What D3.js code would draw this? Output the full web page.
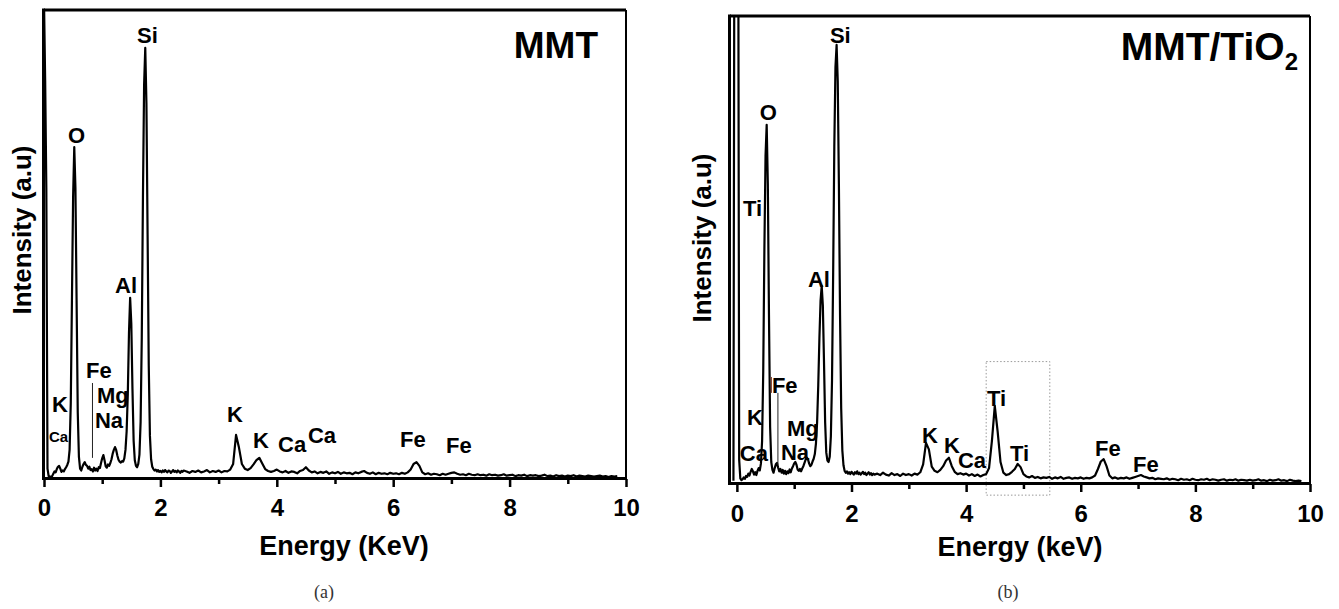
<!DOCTYPE html>
<html>
<head>
<meta charset="utf-8">
<script src="https://cdn.jsdelivr.net/npm/d3@7"></script>
<style>
  body { margin: 0; background: #fff; }
  svg { display: block; }
  text { font-family: "Liberation Sans", Arial, Helvetica, sans-serif; }
  text.caption { font-family: "Liberation Serif", "Times New Roman", serif; }
</style>
</head>
<body>
<svg id="chart" width="1339" height="609"></svg>
<script>
// ---- EDS spectra (intensity in a.u., uniform channel grids) ----
// Fine grid for the light-element region, coarser grid above 2.4 keV.
const lowStep = 0.02;
const highStart = 2.45;
const highStep = 0.05;

// MMT spectrum, 0.00 – 2.40 keV
const mmtLowStart = 0.00;
const mmtLow = [
  102, 85, 62, 2.0, 0.4, 0.3, 0.2, 0.4, 0.9, 1.4,
  1.2, 1.9, 2.4, 2.6, 2.0, 1.3, 1.6, 1.4, 1.9, 2.3,
  2.8, 3.5, 6, 16, 38, 60, 70.7, 62, 38, 14,
  4.5, 2.0, 1.6, 2.4, 3.0, 3.4, 2.8, 2.6, 2.0, 2.4,
  1.7, 1.9, 1.4, 2.2, 1.6, 2.0, 1.5, 2.3, 2.1, 3.2,
  4.2, 4.9, 3.8, 2.5, 2.2, 2.9, 2.6, 3.2, 4.0, 5.2,
  6.0, 6.6, 6.0, 4.8, 3.9, 3.5, 3.3, 3.6, 3.5, 4.2,
  6, 10, 18, 31, 38.5, 33, 19, 8, 3.8, 2.6,
  2.3, 3.0, 5, 12, 30, 60, 84, 91.9, 80, 52,
  24, 9, 4, 2.4, 1.9, 1.6, 1.8, 1.4, 1.7, 1.3,
  1.5, 1.2, 1.6, 1.3, 1.7, 1.4, 1.2, 1.6, 1.5, 1.1,
  1.4, 1.7, 1.3, 1.5, 1.2, 1.6, 1.4, 1.1, 1.5, 1.3,
  1.6
];
// MMT spectrum, 2.45 – 9.85 keV
const mmtHigh = [
  1.4, 1.1, 1.5, 1.3, 1.6, 1.2, 1.4, 1.7, 1.2, 1.5,
  1.3, 1.6, 1.2, 1.5, 1.4, 1.8, 3.0, 9.2, 6.5, 3.0,
  2.0, 1.7, 2.1, 2.9, 3.8, 4.3, 3.1, 1.9, 1.5, 1.3,
  1.5, 1.8, 1.4, 1.2, 1.5, 1.1, 1.4, 1.3, 1.0, 1.5,
  1.7, 2.3, 1.6, 1.2, 1.4, 1.0, 1.3, 1.1, 1.4, 0.9,
  1.2, 1.0, 1.3, 0.9, 1.2, 1.0, 1.1, 0.8, 1.2, 1.0,
  1.3, 1.5, 1.1, 0.9, 1.2, 0.8, 1.1, 0.9, 1.0, 0.8,
  1.1, 0.9, 1.0, 0.8, 1.1, 0.9, 1.2, 1.8, 3.0, 3.4,
  2.6, 1.2, 0.8, 1.0, 0.7, 0.9, 0.8, 0.6, 0.9, 0.7,
  0.9, 1.1, 1.2, 0.9, 0.7, 0.8, 0.6, 0.9, 0.7, 0.6,
  0.8, 0.6, 0.7, 0.5, 0.8, 0.6, 0.7, 0.5, 0.6, 0.8,
  0.5, 0.6, 0.7, 0.4, 0.6, 0.5, 0.7, 0.4, 0.6, 0.5,
  0.6, 0.4, 0.5, 0.7, 0.4, 0.5, 0.3, 0.6, 0.4, 0.5,
  0.3, 0.5, 0.4, 0.6, 0.3, 0.5, 0.4, 0.3, 0.5, 0.4,
  0.3, 0.4, 0.5, 0.3, 0.4, 0.2, 0.4, 0.3, 0.4
];

// MMT/TiO2 spectrum, -0.06 – 2.40 keV
const tioLowStart = -0.06;
const tioLow = [
  0.5, 150, 150, 150, 150, 5, 1.0, 0.6, 0.8, 1.2,
  0.9, 1.5, 1.3, 2.0, 1.6, 2.4, 3.0, 2.5, 1.8, 2.3,
  1.7, 2.6, 3.2, 2.7, 4.2, 9, 24, 50, 70, 76.7,
  64, 36, 12, 4.5, 2.8, 2.2, 3.2, 4.0, 4.3, 3.3,
  2.5, 3.0, 2.2, 2.8, 2.0, 2.6, 1.9, 2.5, 2.1, 2.9,
  2.3, 3.1, 3.6, 4.2, 4.5, 3.9, 2.9, 2.6, 3.0, 2.5,
  3.1, 3.6, 4.3, 5.0, 5.4, 5.1, 4.2, 3.6, 3.9, 4.6,
  5.2, 6.2, 8.5, 13, 21, 31, 39, 42.2, 38, 26,
  13, 6.5, 4.8, 4.5, 5.6, 10, 22, 45, 72, 89,
  93.8, 86, 64, 36, 16, 7, 3.8, 2.6, 2.2, 2.5,
  2.0, 2.3, 1.9, 2.4, 2.1, 1.8, 2.3, 2.0, 2.5, 1.9,
  2.2, 1.8, 2.1, 2.4, 1.9, 2.2, 1.7, 2.0, 2.3, 1.8,
  2.1, 1.7, 2.0, 1.8
];
// MMT/TiO2 spectrum, 2.45 – 9.85 keV
const tioHigh = [
  2.0, 1.7, 2.2, 1.8, 1.6, 2.1, 1.7, 1.9, 1.5, 2.0,
  1.7, 1.9, 1.6, 2.0, 1.8, 2.3, 4.0, 8.6, 7.2, 3.5,
  2.6, 2.3, 2.8, 3.6, 4.8, 5.4, 3.6, 2.4, 1.9, 2.1,
  1.8, 2.0, 1.6, 1.9, 1.5, 1.8, 1.4, 1.7, 1.9, 3.2,
  9.0, 16.5, 11.0, 4.5, 2.2, 1.7, 1.9, 2.4, 3.0, 4.1,
  3.4, 1.9, 1.4, 1.2, 1.5, 1.1, 1.3, 1.0, 1.2, 1.1,
  1.3, 0.9, 1.2, 1.0, 1.3, 0.9, 1.1, 1.2, 0.9, 1.1,
  1.0, 1.2, 0.9, 1.1, 1.0, 1.2, 1.6, 3.0, 4.6, 5.1,
  3.6, 1.6, 1.0, 1.2, 0.9, 1.1, 1.0, 1.2, 0.9, 1.1,
  1.3, 1.5, 1.7, 1.4, 1.2, 1.0, 1.1, 0.8, 1.0, 0.9,
  0.8, 1.0, 0.7, 0.9, 0.8, 0.6, 0.9, 0.7, 0.8, 0.6,
  0.9, 0.7, 0.6, 0.8, 0.7, 0.9, 0.6, 0.8, 0.7, 0.5,
  0.7, 0.8, 0.5, 0.7, 0.6, 0.8, 0.5, 0.7, 0.6, 0.5,
  0.7, 0.5, 0.6, 0.8, 0.5, 0.6, 0.4, 0.7, 0.5, 0.6,
  0.8, 0.5, 0.6, 0.4, 0.7, 0.5, 0.4, 0.5, 0.4
];

// ---- axis ticks ----
const majorTicks = [0, 2, 4, 6, 8, 10];
const minorTicks = [1, 3, 5, 7, 9];

// ---- peak labels: [element, energy (keV), intensity anchor (a.u.)] ----
const mmtPeakLabels = [
  ["Si", 1.598, 92.9], ["O", 0.412, 71.6], ["Al", 1.22, 39.5],
  ["Fe", 0.722, 21.4], ["Mg", 0.911, 16.0], ["Na", 0.876, 10.7],
  ["K", 0.137, 14.1], ["K", 3.144, 12.0], ["K", 3.591, 6.4],
  ["Ca", 4.021, 5.6], ["Ca", 4.536, 7.5], ["Fe", 6.117, 6.6], ["Fe", 6.907, 5.3]
];
const mmtSmallLabels = [["Ca", 0.086, 7.7]];
const tioPeakLabels = [
  ["Si", 1.623, 94.2], ["O", 0.401, 77.7], ["Ti", 0.105, 57.2],
  ["Al", 1.239, 42.0], ["Fe", 0.611, 19.3], ["K", 0.175, 12.4],
  ["Mg", 0.873, 10.1], ["Ca", 0.052, 4.7], ["Na", 0.768, 4.9],
  ["K", 3.229, 8.6], ["K", 3.613, 6.4], ["Ca", 3.857, 3.2],
  ["Ti", 4.363, 16.5], ["Ti", 4.764, 4.7], ["Fe", 6.248, 5.8], ["Fe", 6.911, 2.4]
];
// leader lines: [energy, intensity from, intensity to]
const mmtLeaders = [[0.833, 20.3, 4.3]];
const tioLeaders = [[0.716, 19.3, 3.9]];
// Ti K region highlight: energy range and intensity range
const tiRegionEnergy = [4.35, 5.46];
const tiRegionIntensity = [-2.6, 26];

function spectrum(lowStart, low, high) {
  const pts = low.map((v, i) => [lowStart + i * lowStep, v]);
  high.forEach((v, i) => pts.push([highStart + i * highStep, v]));
  return pts;
}

const svg = d3.select("#chart");

function drawPanel(cfg) {
  const x = d3.scaleLinear().domain(cfg.xDomain).range([cfg.left, cfg.right]);
  const y = d3.scaleLinear().domain([0, 100]).range([cfg.bottom, cfg.top]);
  const g = svg.append("g");

  g.append("clipPath").attr("id", cfg.id + "-clip")
    .append("rect")
    .attr("x", cfg.left).attr("y", cfg.top)
    .attr("width", cfg.right - cfg.left).attr("height", cfg.bottom - cfg.top);

  // highlight box (drawn first, under the trace)
  if (cfg.region) {
    g.append("rect")
      .attr("x", x(cfg.region.e[0])).attr("y", y(cfg.region.i[1]))
      .attr("width", x(cfg.region.e[1]) - x(cfg.region.e[0]))
      .attr("height", y(cfg.region.i[0]) - y(cfg.region.i[1]))
      .attr("fill", "none").attr("stroke", "#999")
      .attr("stroke-width", 1).attr("stroke-dasharray", "1.5,2");
  }

  const line = d3.line().x(d => x(d[0])).y(d => y(d[1]));
  g.append("path")
    .datum(cfg.data)
    .attr("clip-path", `url(#${cfg.id}-clip)`)
    .attr("d", line)
    .attr("fill", "none").attr("stroke", "#000")
    .attr("stroke-width", 2.2).attr("stroke-linejoin", "round");

  // frame
  g.append("line").attr("x1", cfg.left).attr("x2", cfg.right)
    .attr("y1", cfg.top).attr("y2", cfg.top)
    .attr("stroke", "#000").attr("stroke-width", 3);
  g.append("line").attr("x1", cfg.right).attr("x2", cfg.right)
    .attr("y1", cfg.top).attr("y2", cfg.bottom)
    .attr("stroke", "#000").attr("stroke-width", 2);
  g.append("line").attr("x1", cfg.left - 0.5).attr("x2", cfg.left - 0.5)
    .attr("y1", cfg.top - 1.5).attr("y2", cfg.bottom + 1.5)
    .attr("stroke", "#000").attr("stroke-width", 3);
  g.append("line").attr("x1", cfg.left - 2).attr("x2", cfg.right + 1)
    .attr("y1", cfg.bottom + 0.5).attr("y2", cfg.bottom + 0.5)
    .attr("stroke", "#000").attr("stroke-width", 3);

  // bottom axis: major ticks with labels, minor ticks without
  const major = d3.axisBottom(x).tickValues(majorTicks)
    .tickSize(8).tickPadding(cfg.tickPad).tickFormat(d3.format("d"));
  const minor = d3.axisBottom(x).tickValues(minorTicks)
    .tickSize(5).tickFormat("");
  [major, minor].forEach(ax => {
    const a = g.append("g")
      .attr("transform", `translate(0,${cfg.bottom + 1})`)
      .call(ax);
    a.select(".domain").remove();
    a.selectAll("line").attr("stroke", "#000").attr("stroke-width", 2.5);
    a.selectAll("text")
      .attr("font-size", 24)
      .attr("font-weight", "bold").attr("fill", "#000");
  });

  // axis titles
  g.append("text")
    .attr("x", (cfg.left + cfg.right) / 2 + cfg.xTitleShift).attr("y", cfg.xTitleY)
    .attr("text-anchor", "middle").attr("font-size", 27).attr("font-weight", "bold")
    .text(cfg.xTitle);
  g.append("text")
    .attr("transform", `translate(${cfg.yTitleX},${cfg.yTitleY}) rotate(-90)`)
    .attr("text-anchor", "middle").attr("font-size", 26).attr("font-weight", "bold")
    .text("Intensity (a.u)");

  // peak labels
  g.selectAll("text.peak").data(cfg.labels).join("text")
    .attr("class", "peak")
    .attr("x", d => x(d[1])).attr("y", d => y(d[2]))
    .attr("font-size", 22).attr("font-weight", "bold").attr("fill", "#000")
    .text(d => d[0]);
  g.selectAll("text.small").data(cfg.smallLabels || []).join("text")
    .attr("class", "small")
    .attr("x", d => x(d[1])).attr("y", d => y(d[2]))
    .attr("font-size", 15).attr("font-weight", "bold").attr("fill", "#000")
    .text(d => d[0]);
  g.selectAll("line.leader").data(cfg.leaders).join("line")
    .attr("class", "leader")
    .attr("x1", d => x(d[0])).attr("x2", d => x(d[0]))
    .attr("y1", d => y(d[1])).attr("y2", d => y(d[2]))
    .attr("stroke", "#222").attr("stroke-width", 1);

  return { g, x, y };
}

// (a) MMT
const pa = drawPanel({
  id: "mmt",
  data: spectrum(mmtLowStart, mmtLow, mmtHigh),
  xDomain: [0, 10], left: 44, right: 626, top: 10, bottom: 478,
  tickPad: 12, xTitle: "Energy (KeV)", xTitleY: 555, xTitleShift: 9,
  yTitleX: 31, yTitleY: 230,
  labels: mmtPeakLabels, smallLabels: mmtSmallLabels, leaders: mmtLeaders
});
pa.g.append("text")
  .attr("x", 598).attr("y", 58).attr("text-anchor", "end")
  .attr("font-size", 37).attr("font-weight", "bold").text("MMT");

// (b) MMT/TiO2
const pb = drawPanel({
  id: "tio",
  data: spectrum(tioLowStart, tioLow, tioHigh),
  xDomain: [-0.12, 10], left: 730, right: 1310, top: 16, bottom: 483,
  tickPad: 13, xTitle: "Energy (keV)", xTitleY: 556, xTitleShift: 0,
  yTitleX: 711, yTitleY: 238,
  labels: tioPeakLabels, leaders: tioLeaders,
  region: { e: tiRegionEnergy, i: tiRegionIntensity }
});
// short marker line beside the Fe L label
pb.g.append("line")
  .attr("x1", pb.x(0.602)).attr("x2", pb.x(0.602))
  .attr("y1", pb.y(22.7)).attr("y2", pb.y(19.3))
  .attr("stroke", "#7a2e1f").attr("stroke-width", 1);
const tTitle = pb.g.append("text")
  .attr("x", 1298).attr("y", 60).attr("text-anchor", "end")
  .attr("font-size", 39).attr("font-weight", "bold");
tTitle.append("tspan").text("MMT/TiO");
tTitle.append("tspan").attr("font-size", 24).attr("dy", 10).text("2");

// sub-figure captions
svg.append("text").attr("class", "caption")
  .attr("x", 324).attr("y", 598).attr("text-anchor", "middle")
  .attr("font-size", 18).attr("fill", "#333").text("(a)");
svg.append("text").attr("class", "caption")
  .attr("x", 1008).attr("y", 598).attr("text-anchor", "middle")
  .attr("font-size", 18).attr("fill", "#333").text("(b)");
</script>
</body>
</html>
